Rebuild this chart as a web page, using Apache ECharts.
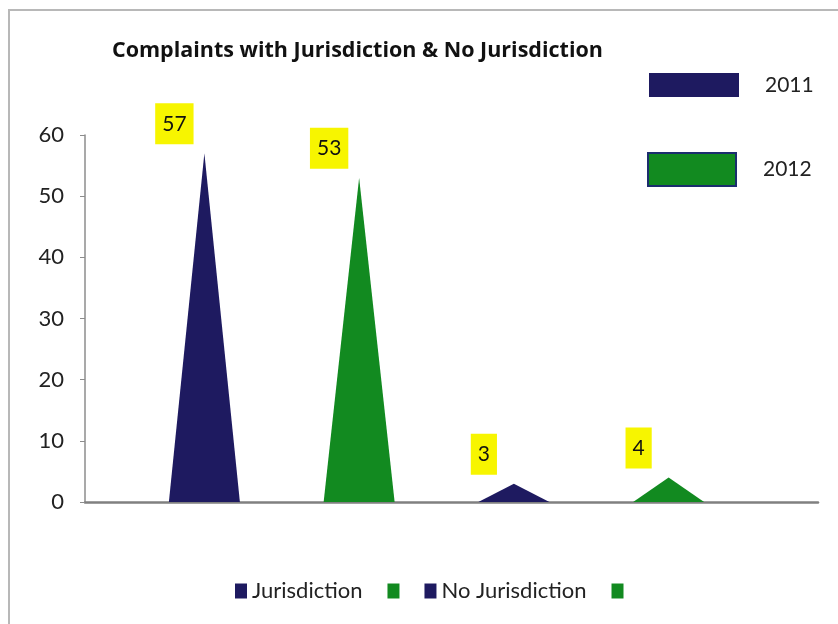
<!DOCTYPE html>
<html>
<head>
<meta charset="utf-8">
<script src="https://cdn.jsdelivr.net/npm/echarts@6/dist/echarts.min.js"></script>
<style>
  html, body { margin: 0; padding: 0; background: #fff; }
  #frame {
    position: absolute; left: 8px; top: 9px; width: 840px; height: 620px;
    border-left: 2px solid #b8b8b8; border-top: 2px solid #b8b8b8;
  }
  #chart { position: absolute; left: 0; top: 0; width: 838px; height: 624px; }
</style>
</head>
<body>
<div id="frame"></div>
<div id="chart"></div>
<script>
// data
const categories = ["Jurisdiction 2011", "Jurisdiction 2012", "No Jurisdiction 2011", "No Jurisdiction 2012"];
const values = [57, 53, 3, 4];
const legendNames = ["Jurisdiction", "", "No Jurisdiction", ""];
const years = ["2011", "2012"];
const yTicks = [0, 10, 20, 30, 40, 50, 60];

const NAVY = "#1e1a60";
const GREEN = "#128a20";
const colors = [NAVY, GREEN, NAVY, GREEN];
const FONT = "Lato";

let myChart = echarts.init(document.getElementById("chart"));

// one pictorial series per triangle so the bottom legend can list them
let triSeries = categories.map((name, i) => {
  return {
    name: name,
    type: "pictorialBar",
    xAxisIndex: 1,
    yAxisIndex: 1,
    symbol: "triangle",
    symbolSize: [71, "100%"],
    itemStyle: { color: colors[i] },
    label: {
      show: true,
      position: "top",
      offset: [-30, -4],
      backgroundColor: "#f7f500",
      padding: [10, 7],
      color: "#111",
      fontFamily: FONT,
      fontSize: 21,
      lineHeight: 21
    },
    data: values.map((v, j) => (j === i ? v : "-"))
  };
});

// empty series only feeding the year legend at top right
let yearSeries = years.map((y, i) => {
  return {
    name: y,
    type: "bar",
    xAxisIndex: 1,
    yAxisIndex: 1,
    itemStyle: i === 0 ? { color: NAVY } : { color: GREEN, borderColor: "#1b2d6e", borderWidth: 2 },
    data: []
  };
});

let option = {
  animation: false,
  title: {
    text: "Complaints with Jurisdiction & No Jurisdiction",
    left: 107,
    top: 35,
    textStyle: { fontFamily: "Open Sans", fontSize: 21.5, fontWeight: "bold", color: "#111" }
  },
  legend: [
    {
      data: categories,
      left: 230,
      top: 575,
      itemWidth: 12,
      itemHeight: 15,
      itemGap: 25,
      icon: "rect",
      formatter: name => legendNames[categories.indexOf(name)],
      textStyle: { fontFamily: FONT, fontSize: 22, color: "#222" }
    },
    {
      data: [years[0]],
      left: 644,
      top: 68,
      itemWidth: 90,
      itemHeight: 24,
      icon: "rect",
      textStyle: { fontFamily: FONT, fontSize: 21, color: "#222", padding: [0, 0, 0, 21] }
    },
    {
      data: [years[1]],
      left: 642,
      top: 147,
      itemWidth: 88,
      itemHeight: 33,
      icon: "rect",
      textStyle: { fontFamily: FONT, fontSize: 21, color: "#222", padding: [0, 0, 0, 22] }
    }
  ],
  grid: [
    { left: 85, right: 20, top: 135, bottom: 122 },
    { left: 127, right: 92, top: 135, bottom: 122 }
  ],
  xAxis: [
    {
      gridIndex: 0,
      type: "category",
      data: [""],
      axisLine: { lineStyle: { color: "#808080", width: 2.5 } },
      axisTick: { show: false },
      axisLabel: { show: false }
    },
    {
      gridIndex: 1,
      type: "category",
      data: categories,
      show: false
    }
  ],
  yAxis: [
    {
      gridIndex: 0,
      type: "value",
      min: yTicks[0],
      max: yTicks[yTicks.length - 1],
      interval: 10,
      axisLine: { show: true, lineStyle: { color: "#8c8c8c", width: 1.5 } },
      axisTick: { show: true, length: 5, lineStyle: { color: "#8c8c8c" } },
      splitLine: { show: false },
      axisLabel: { fontFamily: FONT, fontSize: 22, color: "#222", margin: 21 }
    },
    {
      gridIndex: 1,
      type: "value",
      min: yTicks[0],
      max: yTicks[yTicks.length - 1],
      show: false
    }
  ],
  series: triSeries.concat(yearSeries)
};
myChart.setOption(option);
</script>
</body>
</html>
